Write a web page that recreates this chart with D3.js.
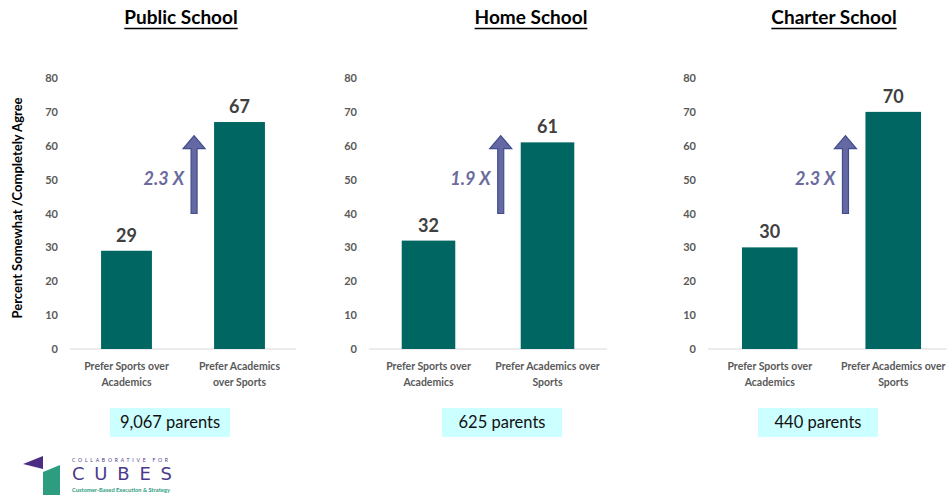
<!DOCTYPE html>
<html>
<head>
<meta charset="utf-8">
<script src="https://cdn.jsdelivr.net/npm/d3@7/dist/d3.min.js"></script>
<style>
  body { margin: 0; background: #fff; }
  svg { display: block; }
</style>
</head>
<body>
<svg id="chart" width="947" height="495"></svg>
<script>
// data
var schools = ["Public School", "Home School", "Charter School"];
var categories = ["sports", "academics"];
var sportsValues = [29, 32, 30];
var academicsValues = [67, 61, 70];
var multipliers = ["2.3 X", "1.9 X", "2.3 X"];
var parentCounts = ["9,067 parents", "625 parents", "440 parents"];
var yTicks = [0, 10, 20, 30, 40, 50, 60, 70, 80];
var arrowFrom = 40, arrowTo = 63;
var catLabels = [
    [["Prefer Sports over", "Academics"], ["Prefer Academics", "over Sports"]],
    [["Prefer Sports over", "Academics"], ["Prefer Academics over", "Sports"]],
    [["Prefer Sports over", "Academics"], ["Prefer Academics over", "Sports"]]
];
var yTitle = "Percent Somewhat /Completely Agree";

// layout (pixels)
var panelX = [[70, 296], [369, 607], [708, 955]];
var titleX = [181, 531, 834];
var boxX = [170, 502, 818];
var barColor = "#006661",
    arrowColor = "#6568A3",
    fontMain = "Lato, 'Open Sans', sans-serif";

var svg = d3.select("#chart");

var y = d3.scaleLinear().domain([0, 80]).range([349, 78]);

schools.forEach(function (name, i) {
    var g = svg.append("g").attr("class", "panel");
    var x = d3.scaleBand()
        .domain(categories)
        .range(panelX[i])
        .paddingInner(0.55)
        .paddingOuter(0.275);

    // title, underlined
    var t = g.append("text")
        .attr("x", titleX[i])
        .attr("y", 24)
        .attr("text-anchor", "middle")
        .attr("font-family", fontMain)
        .attr("font-weight", "bold")
        .attr("font-size", 19)
        .attr("fill", "#000")
        .text(name);
    var w = t.node().getComputedTextLength();
    g.append("line")
        .attr("x1", titleX[i] - w / 2)
        .attr("x2", titleX[i] + w / 2)
        .attr("y1", 28.5)
        .attr("y2", 28.5)
        .attr("stroke", "#000")
        .attr("stroke-width", 1.4);

    // y axis labels (no line)
    var yAxis = d3.axisLeft(y).tickValues(yTicks).tickSize(0).tickPadding(12);
    var ax = g.append("g")
        .attr("transform", "translate(" + panelX[i][0] + ",0)")
        .call(yAxis);
    ax.select(".domain").remove();
    ax.selectAll("text")
        .attr("font-family", fontMain)
        .attr("font-weight", "bold")
        .attr("font-size", 11)
        .attr("fill", "#595959");

    // baseline
    g.append("line")
        .attr("x1", panelX[i][0])
        .attr("x2", Math.min(panelX[i][1], 947))
        .attr("y1", y(0))
        .attr("y2", y(0))
        .attr("stroke", "#D9D9D9")
        .attr("stroke-width", 1);

    var vals = [sportsValues[i], academicsValues[i]];
    var data = categories.map(function (c, k) { return {cat: c, v: vals[k], lab: catLabels[i][k]}; });

    g.selectAll("rect.bar")
        .data(data)
        .enter()
        .append("rect")
        .attr("class", "bar")
        .attr("x", function (d) { return x(d.cat); })
        .attr("width", x.bandwidth())
        .attr("y", function (d) { return y(d.v); })
        .attr("height", function (d) { return y(0) - y(d.v); })
        .attr("fill", barColor);

    g.selectAll("text.val")
        .data(data)
        .enter()
        .append("text")
        .attr("class", "val")
        .attr("x", function (d) { return x(d.cat) + x.bandwidth() / 2; })
        .attr("y", function (d) { return y(d.v) - 9; })
        .attr("text-anchor", "middle")
        .attr("font-family", fontMain)
        .attr("font-weight", "bold")
        .attr("font-size", 18)
        .attr("fill", "#404040")
        .text(function (d) { return d.v; });

    // category labels
    data.forEach(function (d) {
        var lt = g.append("text")
            .attr("text-anchor", "middle")
            .attr("font-family", fontMain)
            .attr("font-weight", "bold")
            .attr("font-size", 10.5)
            .attr("fill", "#595959");
        d.lab.forEach(function (line, j) {
            lt.append("tspan")
                .attr("x", x(d.cat) + x.bandwidth() / 2)
                .attr("y", 370 + j * 16)
                .text(line);
        });
    });

    // arrow
    var ax0 = x("academics") - 20;
    var yb = y(arrowFrom), yt = y(arrowTo), hb = yt + 13;
    var path = "M" + (ax0 - 3) + "," + yb +
        "L" + (ax0 - 3) + "," + hb +
        "L" + (ax0 - 11) + "," + hb +
        "L" + ax0 + "," + yt +
        "L" + (ax0 + 11) + "," + hb +
        "L" + (ax0 + 3) + "," + hb +
        "L" + (ax0 + 3) + "," + yb + "Z";
    g.append("path")
        .attr("d", path)
        .attr("fill", arrowColor)
        .attr("stroke", "#3F4E8C")
        .attr("stroke-width", 1.2);

    g.append("text")
        .attr("x", ax0 - 10)
        .attr("y", 185)
        .attr("text-anchor", "end")
        .attr("font-family", fontMain)
        .attr("font-weight", "bold")
        .attr("font-style", "italic")
        .attr("font-size", 18)
        .attr("fill", "#6B6B9E")
        .text(multipliers[i]);

    // parents box
    g.append("rect")
        .attr("x", boxX[i] - 60)
        .attr("y", 408)
        .attr("width", 120)
        .attr("height", 29)
        .attr("fill", "#CCFFFF");
    g.append("text")
        .attr("x", boxX[i])
        .attr("y", 428)
        .attr("text-anchor", "middle")
        .attr("font-family", fontMain)
        .attr("font-size", 16.5)
        .attr("fill", "#111")
        .text(parentCounts[i]);
});

// y axis title
svg.append("text")
    .attr("transform", "translate(22,208) rotate(-90)")
    .attr("text-anchor", "middle")
    .attr("font-family", fontMain)
    .attr("font-weight", "bold")
    .attr("font-size", 13)
    .attr("fill", "#000")
    .text(yTitle);

// logo
var logo = svg.append("g").attr("class", "logo");
logo.append("path")
    .attr("d", "M23,464 L43,456 L43,469 Z")
    .attr("fill", "#4B2E83");
logo.append("path")
    .attr("d", "M43,472 L60,465 L60,495 L43,495 Z")
    .attr("fill", "#2E9C7E");
logo.append("text")
    .attr("x", 72).attr("y", 462)
    .attr("textLength", 96)
    .attr("lengthAdjust", "spacing")
    .attr("font-family", fontMain)
    .attr("font-size", 5)
    .attr("fill", "#4B3A8A")
    .text("COLLABORATIVE FOR");
logo.append("text")
    .attr("x", 72).attr("y", 480)
    .attr("textLength", 100)
    .attr("lengthAdjust", "spacing")
    .attr("font-family", "'DejaVu Sans', sans-serif")
    .attr("font-size", 18)
    .attr("fill", "#4B3A8A")
    .text("CUBES");
logo.append("text")
    .attr("x", 72).attr("y", 492)
    .attr("textLength", 98)
    .attr("lengthAdjust", "spacingAndGlyphs")
    .attr("font-family", fontMain)
    .attr("font-weight", "bold")
    .attr("font-size", 6)
    .attr("fill", "#2E9C7E")
    .text("Customer-Based Execution & Strategy");
</script>
</body>
</html>
